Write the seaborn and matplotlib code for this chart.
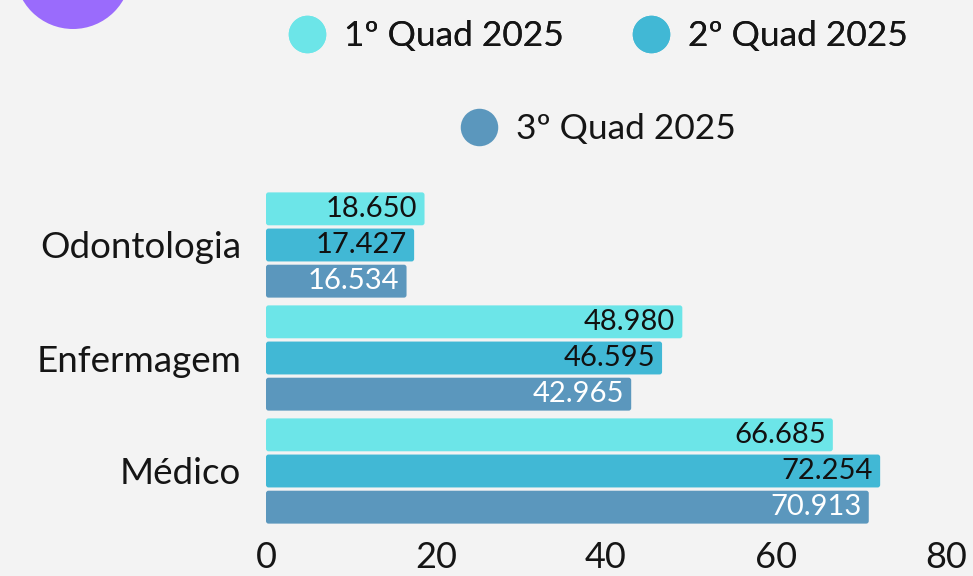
import matplotlib
matplotlib.use("Agg")
import matplotlib.pyplot as plt
import seaborn as sns
import pandas as pd
from matplotlib.patches import FancyBboxPatch, Ellipse
from matplotlib.lines import Line2D

categories = ["Odontologia", "Enfermagem", "Médico"]
series = ["1º Quad 2025", "2º Quad 2025", "3º Quad 2025"]
q1 = [18650, 48980, 66685]
q2 = [17427, 46595, 72254]
q3 = [16534, 42965, 70913]
x_ticks = [0, 20, 40, 60, 80]

colors = ["#6ce5e8", "#41b8d5", "#5b97bd"]
label_colors = ["#111111", "#111111", "#ffffff"]
bg = "#f3f3f3"

rows = []
for s, vals in zip(series, [q1, q2, q3]):
    for c, v in zip(categories, vals):
        rows.append({"cat": c, "serie": s, "val": v / 1000.0, "raw": v})
df = pd.DataFrame(rows)

sns.set_theme(style="white")
plt.rcParams["font.family"] = ["Lato", "DejaVu Sans"]

fig = plt.figure(figsize=(9.73, 5.76), dpi=100, facecolor=bg)
ax = fig.add_axes([266 / 973, 1 - 527.5 / 576, (946 - 266) / 973, (527.5 - 188.5) / 576])
ax.set_facecolor(bg)

sns.barplot(data=df, y="cat", x="val", hue="serie", order=categories,
            hue_order=series, palette=colors, orient="h", width=0.96, gap=0.09,
            legend=False, ax=ax, saturation=1)

ax.set_xlim(0, 80)
ax.set_ylim(2.5, -0.5)
ax.set_xticks(x_ticks)
ax.set_xticklabels([str(t) for t in x_ticks])
ax.set_xlabel("")
ax.set_ylabel("")
for sp in ax.spines.values():
    sp.set_visible(False)
ax.tick_params(axis="x", length=0, pad=10, labelsize=26, labelcolor="#151515")
ax.tick_params(axis="y", length=0, pad=18, labelsize=26.5, labelcolor="#151515")

aspect = (1 / 113.0) / (1 / 8.5)
for ci, (cont, vals) in enumerate(zip(ax.containers, [q1, q2, q3])):
    for bar, v in zip(cont, vals):
        x0, y0 = bar.get_x(), bar.get_y()
        w, h = bar.get_width(), bar.get_height()
        bar.set_visible(False)
        fp = FancyBboxPatch((x0, y0), w, h,
                            boxstyle="round,pad=0,rounding_size=0.3",
                            mutation_aspect=aspect,
                            facecolor=colors[ci], edgecolor="none")
        ax.add_patch(fp)
        txt = f"{v:,}".replace(",", ".")
        ax.annotate(txt, xy=(x0 + w, y0 + h / 2), xytext=(-5, 0),
                    textcoords="offset points", ha="right", va="center",
                    fontsize=21, color=label_colors[ci])

handles = [Line2D([], [], linestyle="none", marker="o", markersize=27,
                  markerfacecolor=c, markeredgecolor="none") for c in colors]
leg1 = fig.legend(handles[:2], series[:2], ncol=2, loc="center",
                  bbox_to_anchor=(597 / 973, 1 - 36 / 576), frameon=False,
                  fontsize=25.5, handlelength=1.2, handletextpad=0.45,
                  columnspacing=1.85, labelcolor="#151515")
leg2 = fig.legend(handles[2:], series[2:], ncol=1, loc="center",
                  bbox_to_anchor=(597 / 973, 1 - 129 / 576), frameon=False,
                  fontsize=25.5, handlelength=1.2, handletextpad=0.45,
                  labelcolor="#151515")
fig.add_artist(leg1)

circ = Ellipse((73, 576 + 29), 116, 116, transform=None, facecolor="#9a6bfc",
               edgecolor="none")
fig.patches.append(circ)
circ.set_figure(fig)

fig.savefig("out.png", dpi=100, facecolor=bg)
